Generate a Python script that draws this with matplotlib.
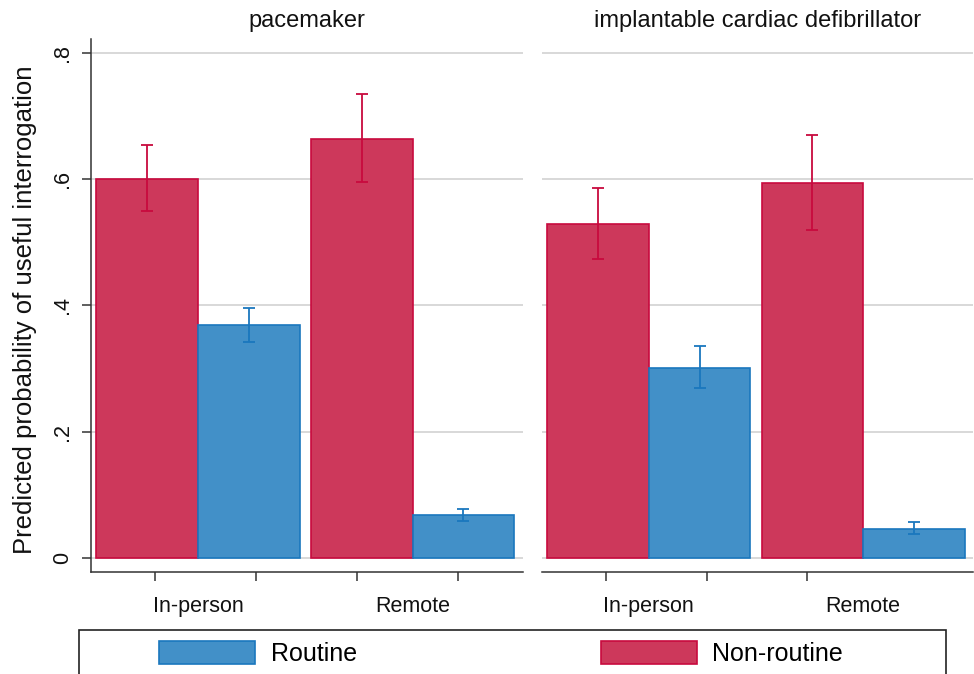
import matplotlib.pyplot as plt
from matplotlib.patches import Rectangle

plt.rcParams['font.family'] = ['Liberation Sans', 'DejaVu Sans']

# data
panels = ['pacemaker', 'implantable cardiac defibrillator']
groups = ['In-person', 'Remote']

nonroutine = [[0.600, 0.663], [0.529, 0.594]]
nonroutine_lo = [[0.550, 0.595], [0.473, 0.520]]
nonroutine_hi = [[0.654, 0.734], [0.586, 0.670]]

routine = [[0.369, 0.068], [0.3015, 0.046]]
routine_lo = [[0.343, 0.059], [0.269, 0.038]]
routine_hi = [[0.396, 0.0785], [0.336, 0.057]]

red_fill, red_edge = '#CD385B', '#C80A3E'
blue_fill, blue_edge = '#4290C8', '#1A77BE'

W, H = 974, 674
fig = plt.figure(figsize=(W / 100, H / 100), dpi=100)

# axes placement (pixels -> figure fraction)
ax_boxes = [(90.7, 523.0), (541.7, 973.3)]
top_px, bot_px = 39.3, 572.3

bw = 0.473
gx = [0, 1]
tick_sets = [[-0.2, 0.27, 0.74, 1.21], [-0.2, 0.27, 0.74]]

axes = []
for i, (x0, x1) in enumerate(ax_boxes):
    ax = fig.add_axes([x0 / W, 1 - bot_px / H, (x1 - x0) / W, (bot_px - top_px) / H])
    axes.append(ax)
    ax.set_ylim(-0.022, 0.821)
    ax.set_xlim(-0.5, 1.514)
    ax.set_yticks([0, 0.2, 0.4, 0.6, 0.8])
    ax.grid(axis='y', color='#D6D6D6', linewidth=1.3, zorder=0)
    ax.set_axisbelow(True)

    xr = [g - bw / 2 for g in gx]
    xb = [g + bw / 2 for g in gx]
    ax.bar(xr, nonroutine[i], width=bw, color=red_fill, edgecolor=red_edge,
           linewidth=1.2, zorder=2, label='Non-routine')
    ax.bar(xb, routine[i], width=bw, color=blue_fill, edgecolor=blue_edge,
           linewidth=1.2, zorder=2, label='Routine')

    err_r = [[v - lo for v, lo in zip(nonroutine[i], nonroutine_lo[i])],
             [hi - v for v, hi in zip(nonroutine[i], nonroutine_hi[i])]]
    err_b = [[v - lo for v, lo in zip(routine[i], routine_lo[i])],
             [hi - v for v, hi in zip(routine[i], routine_hi[i])]]
    ax.errorbar(xr, nonroutine[i], yerr=err_r, fmt='none', ecolor=red_edge,
                elinewidth=1.3, capsize=4, capthick=1.3, zorder=3)
    ax.errorbar(xb, routine[i], yerr=err_b, fmt='none', ecolor=blue_edge,
                elinewidth=1.3, capsize=4, capthick=1.3, zorder=3)

    # labels at group centres, plain tick marks as minor ticks
    ax.set_xticks(gx)
    ax.set_xticklabels(groups, fontsize=15.5, color='#111111')
    ax.tick_params(axis='x', which='major', length=0, pad=17)
    ax.set_xticks(tick_sets[i], minor=True)
    ax.tick_params(axis='x', which='minor', length=6.8, width=1.1, color='#333333')

    for s in ['top', 'right']:
        ax.spines[s].set_visible(False)
    ax.spines['bottom'].set_color('#333333')
    ax.spines['bottom'].set_linewidth(1.1)
    ax.set_title(panels[i], fontsize=17, pad=9, color='#111111')

    if i == 0:
        ax.spines['left'].set_color('#333333')
        ax.spines['left'].set_linewidth(1.1)
        ax.set_yticklabels(['0', '.2', '.4', '.6', '.8'], rotation=90, va='center',
                           fontsize=15.5, color='#111111')
        ax.tick_params(axis='y', length=6.5, width=1.1, color='#333333', pad=6)
        ax.set_ylabel('Predicted probability of useful interrogation', fontsize=18.5,
                      va='center', color='#111111')
        ax.yaxis.set_label_coords((25 - x0) / (x1 - x0), (bot_px - 309.4) / (bot_px - top_px))
    else:
        ax.spines['left'].set_visible(False)
        ax.tick_params(axis='y', length=0, labelleft=False)

# legend
h, l = axes[0].get_legend_handles_labels()
fig.legend([h[1], h[0]], [l[1], l[0]], ncol=2, loc='upper left',
           bbox_to_anchor=(159.3 / W, 1 - 641 / H), frameon=False, fontsize=18,
           borderpad=0, borderaxespad=0, handlelength=3.84, handleheight=1.05,
           handletextpad=0.62, columnspacing=9.75)
fig.patches.append(Rectangle((78.7 / W, -0.05), (945.7 - 78.7) / W, 0.05 + 1 - 630 / H,
                             transform=fig.transFigure, fill=False,
                             edgecolor='#222222', linewidth=1.2))

fig.savefig('out.png', dpi=100)
